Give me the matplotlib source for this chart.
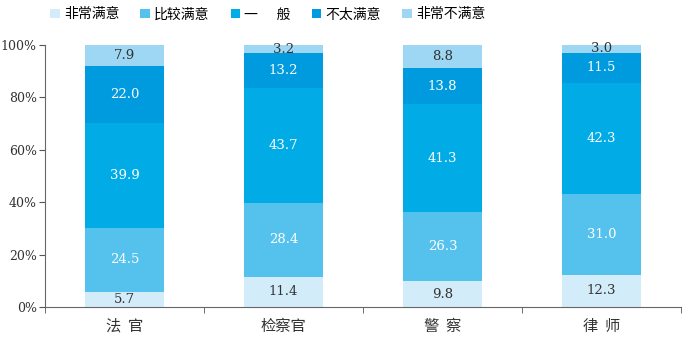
import numpy as np
import matplotlib
matplotlib.use("Agg")
import matplotlib.pyplot as plt

plt.rcParams['font.family'] = ['Noto Sans CJK SC', 'DejaVu Sans']

categories = ["法  官", "检察官", "警  察", "律  师"]
series_names = ["非常满意", "比较满意", "一      般", "不太满意", "非常不满意"]
very_satisfied = [5.7, 11.4, 9.8, 12.3]
satisfied = [24.5, 28.4, 26.3, 31.0]
neutral = [39.9, 43.7, 41.3, 42.3]
dissatisfied = [22.0, 13.2, 13.8, 11.5]
very_dissatisfied = [7.9, 3.2, 8.8, 3.0]

colors = ["#d3ecf9", "#55c1ed", "#00abe6", "#009bdf", "#9dd7f3"]
text_colors = ["#333333", "white", "white", "white", "#333333"]

data = np.array([very_satisfied, satisfied, neutral, dissatisfied, very_dissatisfied])
pct = data / data.sum(axis=0) * 100

fig = plt.figure(figsize=(6.83, 3.38), dpi=100)
ax = fig.add_axes([0.066, 0.092, 0.931, 0.775])
x = np.arange(len(categories))
bottom = np.zeros(len(categories))
handles = []
for i, name in enumerate(series_names):
    bars = ax.bar(x, pct[i], 0.5, bottom=bottom, color=colors[i], label=name)
    handles.append(bars)
    for xi, b, h, v in zip(x, bottom, pct[i], data[i]):
        ax.text(xi, b + h / 2, f"{v:.1f}", ha="center", va="center",
                color=text_colors[i], fontsize=9.5, family="DejaVu Serif")
    bottom += pct[i]

ax.set_xlim(-0.5, len(categories) - 0.5)
ax.set_ylim(0, 100)
ax.set_yticks(np.arange(0, 101, 20))
ax.set_yticklabels([f"{v}%" for v in range(0, 101, 20)], family="DejaVu Serif", fontsize=9, color="#333333")
ax.set_xticks(x)
ax.set_xticklabels(categories, fontsize=11, color="#333333")
ax.set_xticks(np.arange(-0.5, len(categories)), minor=True)
ax.tick_params(axis="x", which="major", length=0, pad=8)
ax.tick_params(axis="x", which="minor", length=4, color="#555555")
ax.tick_params(axis="y", length=4, pad=2, color="#555555")
for s in ["top", "right"]:
    ax.spines[s].set_visible(False)
for s in ["left", "bottom"]:
    ax.spines[s].set_color("#666666")

fig.legend(handles=handles, labels=series_names, loc="upper left",
           bbox_to_anchor=(0.055, 1.015), ncol=5, frameon=False, fontsize=10,
           handlelength=0.7, handleheight=0.7, handletextpad=0.3, columnspacing=1.5)

fig.savefig("out.png", dpi=100)
